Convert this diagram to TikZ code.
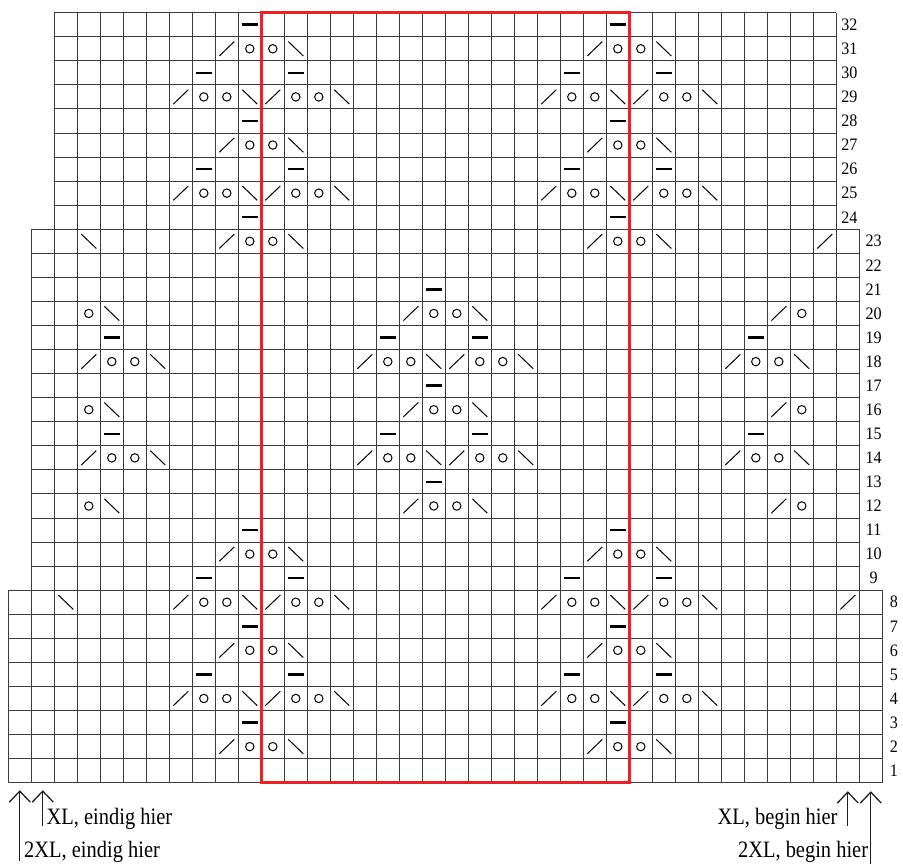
\documentclass[tikz,border=0pt]{standalone}
\usepackage{fontspec}
\newfontfamily\labfont{Liberation Serif}
\usetikzlibrary{arrows.meta}
\definecolor{redc}{RGB}{238,32,36}
\definecolor{gridc}{RGB}{60,60,60}
\tikzset{
  gridline/.style={draw=gridc, line width=0.9pt},
  symline/.style={draw=black, line width=1pt},
  dashsym/.style={draw=black, line width=2.5pt},
  redbox/.style={draw=redc, line width=3pt},
  rowlab/.style={inner sep=0pt, font=\labfont\fontsize{17.5pt}{17.5pt}\selectfont},
  sizelab/.style={inner sep=0pt, text=black, font=\labfont\fontsize{23.5pt}{23.5pt}\selectfont},
  sizearrow/.style={draw=black!88, line width=1.3pt, -{Straight Barb[length=11pt,width=21pt]}},
}
\newcommand{\narrow}[1]{\scalebox{0.87}[1]{#1}}
\begin{document}
\begin{tikzpicture}[x=23pt,y=24.0625pt]
\useasboundingbox (-8.3pt,-81.3pt) rectangle (894.7pt,782.7pt);
% grid
\foreach \y in {0,...,8} \draw[gridline] (0,\y) -- (38,\y);
\foreach \y in {9,...,23} \draw[gridline] (1,\y) -- (37,\y);
\foreach \y in {24,...,32} \draw[gridline] (2,\y) -- (36,\y);
\foreach \x in {0,...,38} \draw[gridline] (\x,0) -- (\x,8);
\foreach \x in {1,...,37} \draw[gridline] (\x,8) -- (\x,23);
\foreach \x in {2,...,36} \draw[gridline] (\x,23) -- (\x,32);
% slashes "/"
\foreach \r in {2,6,10,23,27,31} \foreach \c in {10,26}
  \draw[symline] (\c-0.5,\r-0.5) ++(-7.5pt,-7.2pt) -- ++(15pt,14.4pt);
\foreach \r in {4,8,25,29} \foreach \c in {8,12,24,28}
  \draw[symline] (\c-0.5,\r-0.5) ++(-7.5pt,-7.2pt) -- ++(15pt,14.4pt);
\foreach \r in {12,16,20} \foreach \c in {18,34}
  \draw[symline] (\c-0.5,\r-0.5) ++(-7.5pt,-7.2pt) -- ++(15pt,14.4pt);
\foreach \r in {14,18} \foreach \c in {4,16,20,32}
  \draw[symline] (\c-0.5,\r-0.5) ++(-7.5pt,-7.2pt) -- ++(15pt,14.4pt);
\foreach \c/\r in {37/8,36/23}
  \draw[symline] (\c-0.5,\r-0.5) ++(-7.5pt,-7.2pt) -- ++(15pt,14.4pt);
% backslashes "\"
\foreach \r in {2,6,10,23,27,31} \foreach \c in {13,29}
  \draw[symline] (\c-0.5,\r-0.5) ++(-7.5pt,7.2pt) -- ++(15pt,-14.4pt);
\foreach \r in {4,8,25,29} \foreach \c in {11,15,27,31}
  \draw[symline] (\c-0.5,\r-0.5) ++(-7.5pt,7.2pt) -- ++(15pt,-14.4pt);
\foreach \r in {12,16,20} \foreach \c in {5,21}
  \draw[symline] (\c-0.5,\r-0.5) ++(-7.5pt,7.2pt) -- ++(15pt,-14.4pt);
\foreach \r in {14,18} \foreach \c in {7,19,23,35}
  \draw[symline] (\c-0.5,\r-0.5) ++(-7.5pt,7.2pt) -- ++(15pt,-14.4pt);
\foreach \c/\r in {3/8,4/23}
  \draw[symline] (\c-0.5,\r-0.5) ++(-7.5pt,7.2pt) -- ++(15pt,-14.4pt);
% yarn-overs "o"
\foreach \r in {2,6,10,23,27,31} \foreach \c in {11,12,27,28}
  \draw[symline] (\c-0.5,\r-0.5) circle (4.2pt);
\foreach \r in {4,8,25,29} \foreach \c in {9,10,13,14,25,26,29,30}
  \draw[symline] (\c-0.5,\r-0.5) circle (4.2pt);
\foreach \r in {12,16,20} \foreach \c in {4,19,20,35}
  \draw[symline] (\c-0.5,\r-0.5) circle (4.2pt);
\foreach \r in {14,18} \foreach \c in {5,6,17,18,21,22,33,34}
  \draw[symline] (\c-0.5,\r-0.5) circle (4.2pt);
% dashes
\foreach \r in {3,7,11,24,28,32} \foreach \c in {11,27}
  \draw[dashsym] (\c-0.5,\r-0.5) ++(-8pt,0pt) -- ++(16pt,0pt);
\foreach \r in {5,9,26,30} \foreach \c in {9,13,25,29}
  \draw[dashsym] (\c-0.5,\r-0.5) ++(-8pt,0pt) -- ++(16pt,0pt);
\foreach \r in {13,17,21}
  \draw[dashsym] (19-0.5,\r-0.5) ++(-8pt,0pt) -- ++(16pt,0pt);
\foreach \r in {15,19} \foreach \c in {5,17,21,33}
  \draw[dashsym] (\c-0.5,\r-0.5) ++(-8pt,0pt) -- ++(16pt,0pt);
% repeat frame
\draw[redbox] (11,0) rectangle (27,32);
% row numbers
\foreach \r in {1,...,8} \node[rowlab] (row\r) at (38.5,\r-0.5) {\scalebox{0.92}[1]{\r}};
\foreach \r in {9,...,23} \node[rowlab] (row\r) at (37.62,\r-0.5) {\scalebox{0.92}[1]{\r}};
\foreach \r in {24,...,32} \node[rowlab] (row\r) at (36.57,\r-0.5) {\scalebox{0.92}[1]{\r}};
% size markers
\coordinate (L2a) at (11.5pt,-78.3pt);
\coordinate (L2b) at (11.5pt,-7.5pt);
\coordinate (L1a) at (34.5pt,-43.3pt);
\coordinate (L1b) at (34.5pt,-7.5pt);
\coordinate (R1a) at (839.5pt,-43.3pt);
\coordinate (R1b) at (839.5pt,-8.5pt);
\coordinate (R2a) at (862.5pt,-81.3pt);
\coordinate (R2b) at (862.5pt,-8.5pt);
\draw[sizearrow] (L2a) -- (L2b);
\draw[sizearrow] (L1a) -- (L1b);
\draw[sizearrow] (R1a) -- (R1b);
\draw[sizearrow] (R2a) -- (R2b);
\node[sizelab, anchor=base west] (xlend) at (38.2pt,-42.3pt) {\narrow{XL, eindig hier}};
\node[sizelab, anchor=base west] (xxlend) at (15.7pt,-75.3pt) {\narrow{2XL, eindig hier}};
\node[sizelab, anchor=base east] (xlbegin) at (829.4pt,-42.3pt) {\narrow{XL, begin hier}};
\node[sizelab, anchor=base east] (xxlbegin) at (860pt,-75.3pt) {\narrow{2XL, begin hier}};
\end{tikzpicture}
\end{document}
